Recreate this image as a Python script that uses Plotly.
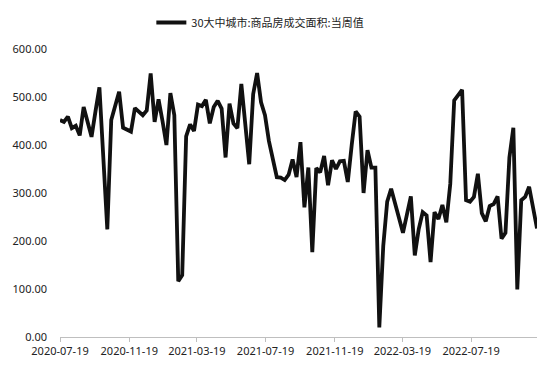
import pandas as pd
import plotly.graph_objects as go

series_name = "30大中城市:商品房成交面积:当周值"
start_date = "2020-07-19"
values = [
    452, 448, 459, 435, 440, 420, 479, 448, 417, 470,
    520, 372, 224, 452, 480, 511, 436, 432, 428, 477,
    470, 462, 472, 549, 448, 495, 450, 400, 508, 462,
    116, 129, 418, 443, 429, 484, 481, 494, 445, 479,
    492, 476, 374, 486, 445, 435, 527, 445, 360, 506,
    550, 489, 462, 408, 367, 333, 332, 327, 338, 370,
    333, 406, 270, 353, 177, 352, 343, 377, 316, 368,
    350, 366, 367, 323, 400, 470, 459, 300, 389, 353,
    353, 20, 190, 282, 309, 278, 248, 217, 255, 293,
    170, 225, 260, 253, 156, 260, 246, 275, 239, 319,
    493, 504, 515, 285, 282, 292, 340, 258, 241, 273,
    277, 293, 205, 217, 374, 436, 99, 285, 292, 313,
    268, 226,
]
dates = pd.date_range(start_date, periods=len(values), freq="7D")
tick_labels = ["2020-07-19", "2020-11-19", "2021-03-19", "2021-07-19",
               "2021-11-19", "2022-03-19", "2022-07-19"]
y_ticks = [0, 100, 200, 300, 400, 500, 600]

fig = go.Figure()
fig.add_trace(go.Scatter(
    x=dates, y=values, mode="lines", name=series_name,
    line=dict(color="#111111", width=3.8),
))

font_family = "Noto Sans, Liberation Sans, sans-serif"
fig.update_layout(
    width=545, height=386,
    margin=dict(l=59.5, r=8.3, t=42.3, b=49.3),
    paper_bgcolor="white", plot_bgcolor="white",
    showlegend=True,
    legend=dict(orientation="h", x=0.42, xanchor="center", y=1.092, yanchor="middle",
                font=dict(family="Noto Sans CJK SC", size=11, color="#222222"),
                itemwidth=30, bgcolor="rgba(0,0,0,0)"),
    xaxis=dict(
        type="date",
        range=[dates[0], dates[-1]],
        tickvals=tick_labels, ticktext=tick_labels,
        showline=True, linecolor="#bfbfbf", linewidth=1,
        ticks="outside", ticklen=4, tickcolor="#bfbfbf",
        showgrid=False, zeroline=False,
        tickfont=dict(family=font_family, size=11, color="#222222"),
    ),
    yaxis=dict(
        range=[0, 600], tickvals=y_ticks, tickformat=".2f",
        showline=False, showgrid=False, zeroline=False, ticks="",
        ticklabelstandoff=12,
        tickfont=dict(family=font_family, size=11, color="#222222"),
    ),
)
fig.write_html("out.html")
